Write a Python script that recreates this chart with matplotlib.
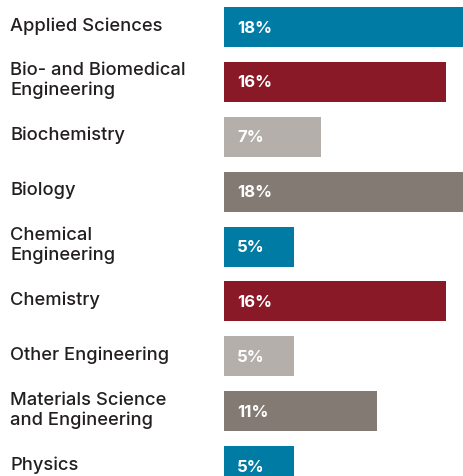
import matplotlib
matplotlib.use("Agg")
import matplotlib.pyplot as plt

# data
fields = ["Applied Sciences", "Bio- and Biomedical\nEngineering", "Biochemistry",
          "Biology", "Chemical\nEngineering", "Chemistry", "Other Engineering",
          "Materials Science\nand Engineering", "Physics"]
shares = [18, 16, 7, 18, 5, 16, 5, 11, 5]
labels = ["18%", "16%", "7%", "18%", "5%", "16%", "5%", "11%", "5%"]
colors = ["#007BA4", "#8A1927", "#B5AFAB", "#837A74",
          "#007BA4", "#8A1927", "#B5AFAB", "#837A74", "#007BA4"]

plt.rcParams['font.family'] = ['Inter', 'DejaVu Sans']

W, H = 463, 476
fig = plt.figure(figsize=(W / 100, H / 100), dpi=100)

# bar area: starts at x=224px, ~13.9 px per percent, rows every 54.875 px
x0 = 224
px_per = 13.9
pitch = 54.875
ax = fig.add_axes([x0 / W, 0, 1 - x0 / W, 1])
ax.set_xlim(0, (W - x0) / px_per)
ax.set_ylim((H - 27) / pitch, -27 / pitch)
ax.axis("off")

ypos = range(len(fields))
ax.barh(ypos, shares, height=40 / pitch, color=colors, left=0)

for y, lab in zip(ypos, labels):
    ax.text(13 / px_per, y + 0.02, lab, color="white", fontsize=12,
            fontweight="bold", va="center", ha="left")

# category names on the left
for y, name in zip(ypos, fields):
    fy = 1 - (26 + y * pitch) / H
    fig.text(10 / W, fy, name, color="#231F20", fontsize=13.2,
             fontweight="medium", va="center", ha="left", linespacing=1.18)

fig.savefig("out.png", dpi=100)
